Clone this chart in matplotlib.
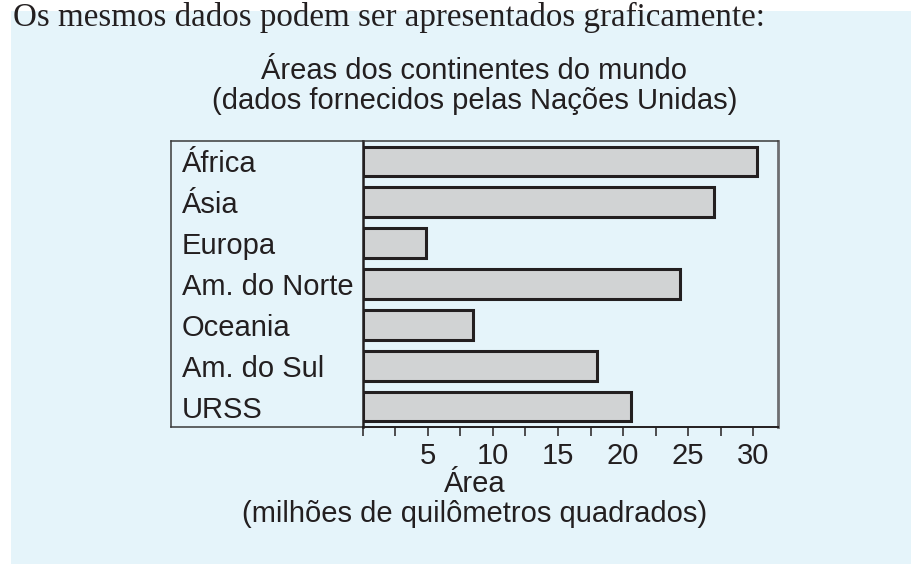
import numpy as np
import matplotlib
matplotlib.use("Agg")
import matplotlib.pyplot as plt
from matplotlib.patches import Rectangle

# dados (milhões de km²)
continentes = ["África", "Ásia", "Europa", "Am. do Norte", "Oceania", "Am. do Sul", "URSS"]
areas = [30.3, 27.0, 4.9, 24.4, 8.5, 18.0, 20.6]
tick_vals = np.arange(0, 31, 2.5)
tick_labels = [str(int(v)) if v % 5 == 0 and v > 0 else "" for v in tick_vals]

W, H = 912, 564
BLUE = "#e5f4fa"
GREY = "#d1d3d4"
DARK = "#231f20"

plt.rcParams["font.family"] = ["Liberation Sans", "DejaVu Sans"]


def fx(px):
    return px / W


def fy(py):
    return 1 - py / H


fig = plt.figure(figsize=(W / 100, H / 100), dpi=100, facecolor="white")

# painel azul de fundo
fig.patches.append(Rectangle((fx(11), 0), 1, fy(11), transform=fig.transFigure,
                             facecolor=BLUE, edgecolor="none", zorder=-10))

fig.text(fx(13), fy(26), "Os mesmos dados podem ser apresentados graficamente:",
         family=["Liberation Serif", "DejaVu Serif"], size=23.8, color=DARK,
         ha="left", va="baseline")

left_box, x0, right, top, bottom = 171, 362.7, 778, 141, 427

# caixa dos rótulos
lbox = fig.add_axes([fx(left_box), fy(bottom), fx(x0 - left_box), (bottom - top) / H])
lbox.set_facecolor("none")
lbox.set_xticks([])
lbox.set_yticks([])
for s in ["left", "top", "bottom"]:
    lbox.spines[s].set_linewidth(1.1)
    lbox.spines[s].set_color("#3a3a3a")
lbox.spines["right"].set_visible(False)

ax = fig.add_axes([fx(x0), fy(bottom), fx(right - x0), (bottom - top) / H])
ax.set_facecolor("none")
ax.barh(range(len(areas)), areas, height=0.73, color=GREY, edgecolor=DARK, linewidth=2.2, zorder=3)
ax.set_ylim(len(areas) - 0.5, -0.5)
ax.set_xlim(0, 31.9)

ax.set_yticks(range(len(continentes)), labels=continentes)
ax.tick_params(axis="y", length=0, pad=(x0 - 182) * 0.72, labelsize=21, labelcolor=DARK)
for lbl in ax.get_yticklabels():
    lbl.set_horizontalalignment("left")

ax.set_xticks(tick_vals, labels=tick_labels)
ax.tick_params(axis="x", direction="out", length=6.5, width=1.1, color=DARK,
               pad=4, labelsize=21, labelcolor=DARK)

ax.spines["left"].set_linewidth(1.8)
ax.spines["left"].set_color(DARK)
ax.spines["bottom"].set_linewidth(1.4)
ax.spines["bottom"].set_color(DARK)
ax.spines["top"].set_linewidth(1.1)
ax.spines["top"].set_color("#3a3a3a")
ax.spines["right"].set_linewidth(2.0)
ax.spines["right"].set_color("#6d6e70")

cx = fx((left_box + right) / 2)
fig.text(cx, fy(79), "Áreas dos continentes do mundo", size=21, color=DARK,
         ha="center", va="baseline")
fig.text(cx, fy(109), "(dados fornecidos pelas Nações Unidas)", size=21, color=DARK,
         ha="center", va="baseline")
fig.text(cx, fy(492), "Área", size=21, color=DARK, ha="center", va="baseline")
fig.text(cx, fy(522), "(milhões de quilômetros quadrados)", size=21, color=DARK,
         ha="center", va="baseline")

fig.savefig("out.png", dpi=100, facecolor="white")
